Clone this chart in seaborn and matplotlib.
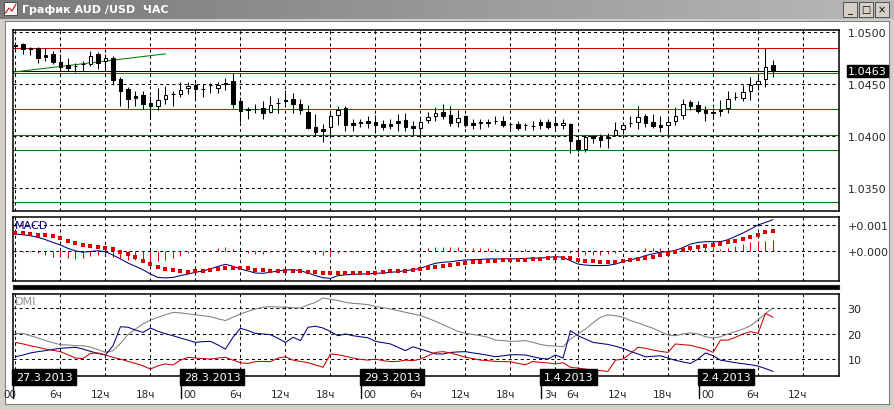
import numpy as np
import pandas as pd
import matplotlib.pyplot as plt
import matplotlib.transforms as mtransforms
import seaborn as sns

# === Data (hourly bars, weekend skipped) ===
hours = list(range(102))   # 0 = 27.3.2013 00:00 ... 101 = 2.4.2013 08:00

open_ = [1.04880, 1.04888, 1.04848, 1.04849, 1.04780, 1.04789, 1.04717, 1.04681, 1.04675, 1.04697,
         1.04691, 1.04789, 1.04724, 1.04750, 1.04553, 1.04451, 1.04388, 1.04395, 1.04320, 1.04296,
         1.04362, 1.04405, 1.04405, 1.04460, 1.04497, 1.04456, 1.04496, 1.04460, 1.04500, 1.04530,
         1.04340, 1.04265, 1.04263, 1.04270, 1.04230, 1.04320, 1.04345, 1.04355, 1.04312, 1.04237,
         1.04092, 1.04072, 1.04086, 1.04204, 1.04270, 1.04132, 1.04135, 1.04151, 1.04138, 1.04122,
         1.04122, 1.04145, 1.04158, 1.04099, 1.04082, 1.04155, 1.04194, 1.04230, 1.04207, 1.04141,
         1.04191, 1.04132, 1.04125, 1.04132, 1.04145, 1.04148, 1.04115, 1.04122, 1.04105, 1.04095,
         1.04138, 1.04141, 1.04125, 1.04112, 1.04115, 1.03961, 1.03878, 1.04000, 1.03990, 1.03984,
         1.04013, 1.04072, 1.04125, 1.04141, 1.04197, 1.04138, 1.04112, 1.04105, 1.04148, 1.04207,
         1.04329, 1.04303, 1.04257, 1.04220, 1.04247, 1.04270, 1.04375, 1.04372, 1.04438, 1.04503,
         1.04549, 1.04681]
high = [1.04906, 1.04898, 1.04860, 1.04862, 1.04849, 1.04822, 1.04789, 1.04757, 1.04707, 1.04724,
        1.04822, 1.04806, 1.04789, 1.04773, 1.04566, 1.04477, 1.04434, 1.04434, 1.04392, 1.04460,
        1.04487, 1.04434, 1.04520, 1.04526, 1.04510, 1.04500, 1.04516, 1.04526, 1.04559, 1.04610,
        1.04378, 1.04280, 1.04312, 1.04336, 1.04385, 1.04368, 1.04444, 1.04421, 1.04355, 1.04303,
        1.04214, 1.04115, 1.04247, 1.04296, 1.04290, 1.04164, 1.04171, 1.04197, 1.04204, 1.04158,
        1.04164, 1.04214, 1.04224, 1.04148, 1.04164, 1.04230, 1.04286, 1.04306, 1.04296, 1.04257,
        1.04204, 1.04164, 1.04171, 1.04164, 1.04197, 1.04191, 1.04138, 1.04148, 1.04132, 1.04148,
        1.04164, 1.04164, 1.04164, 1.04164, 1.04125, 1.03984, 1.04016, 1.04016, 1.04026, 1.04033,
        1.04138, 1.04138, 1.04197, 1.04289, 1.04214, 1.04214, 1.04197, 1.04197, 1.04286, 1.04362,
        1.04345, 1.04336, 1.04289, 1.04270, 1.04345, 1.04434, 1.04428, 1.04493, 1.04569, 1.04592,
        1.04845, 1.04730]
low = [1.04835, 1.04789, 1.04780, 1.04707, 1.04724, 1.04697, 1.04651, 1.04632, 1.04615, 1.04632,
       1.04674, 1.04651, 1.04658, 1.04500, 1.04296, 1.04270, 1.04289, 1.04263, 1.04168, 1.04257,
       1.04312, 1.04296, 1.04378, 1.04411, 1.04362, 1.04378, 1.04421, 1.04421, 1.04444, 1.04270,
       1.04140, 1.04165, 1.04224, 1.04171, 1.04224, 1.04224, 1.04312, 1.04220, 1.04214, 1.04072,
       1.04000, 1.03941, 1.04000, 1.04105, 1.04049, 1.04049, 1.04092, 1.04082, 1.04033, 1.04059,
       1.04066, 1.04049, 1.04049, 1.04016, 1.04000, 1.04125, 1.04148, 1.04164, 1.04099, 1.04092,
       1.04092, 1.04072, 1.04072, 1.04092, 1.04115, 1.04092, 1.04066, 1.04059, 1.04056, 1.04059,
       1.04072, 1.04066, 1.04066, 1.04066, 1.03836, 1.03852, 1.03852, 1.03934, 1.03901, 1.03885,
       1.04000, 1.04026, 1.04092, 1.04072, 1.04092, 1.04082, 1.04039, 1.04000, 1.04105, 1.04171,
       1.04257, 1.04224, 1.04148, 1.04170, 1.04197, 1.04224, 1.04345, 1.04336, 1.04345, 1.04444,
       1.04477, 1.04566]
close = [1.04870, 1.04839, 1.04843, 1.04757, 1.04763, 1.04714, 1.04668, 1.04658, 1.04678, 1.04699,
         1.04773, 1.04707, 1.04750, 1.04543, 1.04434, 1.04355, 1.04372, 1.04309, 1.04296, 1.04345,
         1.04395, 1.04408, 1.04444, 1.04484, 1.04451, 1.04453, 1.04493, 1.04493, 1.04516, 1.04310,
         1.04240, 1.04255, 1.04266, 1.04224, 1.04303, 1.04322, 1.04342, 1.04309, 1.04250, 1.04082,
         1.04043, 1.04049, 1.04191, 1.04257, 1.04105, 1.04109, 1.04132, 1.04125, 1.04105, 1.04092,
         1.04099, 1.04132, 1.04092, 1.04076, 1.04138, 1.04181, 1.04220, 1.04197, 1.04132, 1.04178,
         1.04105, 1.04112, 1.04141, 1.04134, 1.04147, 1.04112, 1.04117, 1.04082, 1.04107, 1.04099,
         1.04105, 1.04092, 1.04105, 1.04132, 1.03951, 1.03878, 1.03993, 1.03980, 1.03967, 1.03990,
         1.04056, 1.04105, 1.04128, 1.04188, 1.04132, 1.04099, 1.04092, 1.04138, 1.04197, 1.04312,
         1.04296, 1.04247, 1.04220, 1.04230, 1.04250, 1.04362, 1.04378, 1.04428, 1.04493, 1.04533,
         1.04668, 1.04630]

# horizontal levels and trend line drawn on the price window
green_levels = [1.0461, 1.0426, 1.0401, 1.0387, 1.0337]
red_level = 1.04845
bid = 1.0463
trend_t = [-0.33, 20.0]
trend_p = [1.04617, 1.04793]

# MACD main line and signal line, in units of 0.0001
macd_main = [6.5, 6.2, 5.8, 5.2, 4.3, 3.2, 2.2, 0.9, -0.1, -0.6,
             -0.3, 0.0, -0.4, -1.7, -3.2, -4.8, -6.1, -7.4, -9.1, -10.4,
             -10.6, -10.4, -9.7, -9.1, -8.4, -7.9, -7.1, -6.1, -5.3, -6.1,
             -7.1, -7.9, -8.7, -8.8, -8.4, -7.9, -7.5, -7.4, -7.8, -8.7,
             -9.7, -10.5, -10.8, -9.7, -9.4, -9.2, -9.1, -9.0, -8.8, -8.7,
             -8.4, -8.2, -7.8, -7.4, -6.9, -5.8, -4.9, -4.5, -4.3, -3.9,
             -3.6, -3.5, -3.4, -3.2, -3.2, -3.2, -3.2, -3.1, -3.0, -2.9,
             -2.9, -2.6, -2.3, -2.6, -3.9, -5.2, -5.6, -5.8, -5.8, -5.7,
             -5.2, -4.3, -3.5, -2.9, -1.9, -1.2, -0.6, -0.4, 0.1, 1.2,
             2.6, 3.2, 3.5, 3.5, 3.5, 4.3, 5.6, 6.9, 8.4, 10.0,
             11.0, 12.1]
macd_signal = [6.9, 6.8, 6.5, 6.1, 6.0, 5.6, 4.8, 3.6, 3.0, 2.3,
               1.9, 1.6, 1.0, 0.6, -0.4, -1.3, -2.3, -3.9, -5.2, -6.5,
               -7.1, -7.5, -7.8, -8.2, -8.1, -7.8, -7.5, -7.1, -6.9, -6.8,
               -6.8, -6.9, -7.5, -7.7, -7.8, -7.8, -7.8, -7.8, -7.8, -8.2,
               -8.4, -8.7, -8.8, -8.8, -8.8, -8.8, -8.8, -8.8, -8.6, -8.3,
               -8.1, -7.9, -7.8, -7.5, -7.1, -6.9, -6.5, -6.1, -5.6, -5.2,
               -4.8, -4.5, -4.3, -4.2, -3.9, -3.8, -3.6, -3.5, -3.5, -3.2,
               -3.1, -3.0, -2.9, -2.7, -3.0, -3.5, -3.9, -4.0, -4.3, -4.4,
               -4.3, -4.0, -3.6, -3.2, -2.9, -2.3, -1.8, -1.2, -0.4, 0.4,
               0.9, 1.4, 1.8, 2.2, 2.7, 3.2, 3.8, 4.4, 5.2, 6.1,
               7.1, 7.8]

# DMI: ADX (gray), navy and red directional lines
adx = [20.1, 20.1, 19.2, 18.3, 17.3, 16.5, 15.7, 15.6, 15.3, 15.3,
       14.8, 13.8, 12.7, 13.4, 16.2, 19.6, 21.8, 23.8, 25.3, 26.4,
       27.4, 28.3, 28.1, 27.7, 27.4, 27.0, 26.6, 25.8, 25.1, 26.4,
       27.7, 28.7, 29.6, 30.3, 30.5, 30.4, 30.3, 30.1, 30.0, 31.2,
       32.2, 33.9, 33.4, 32.9, 32.2, 31.8, 31.6, 31.3, 30.6, 30.1,
       29.6, 29.0, 28.3, 27.7, 27.0, 26.0, 24.8, 23.5, 22.2, 20.9,
       20.1, 19.7, 19.2, 18.6, 17.5, 17.3, 17.0, 17.1, 17.3, 16.6,
       15.8, 15.3, 15.2, 14.9, 17.9, 19.9, 21.8, 24.2, 26.4, 27.3,
       27.0, 26.4, 25.1, 24.2, 23.1, 22.1, 20.8, 19.5, 19.2, 19.9,
       20.3, 19.9, 18.8, 18.3, 18.8, 19.9, 20.8, 21.8, 23.1, 25.3,
       27.9, 30.0]
di_navy = [11.0, 11.7, 12.5, 13.0, 13.4, 13.9, 14.3, 14.5, 14.7, 14.0,
           13.1, 12.3, 11.7, 15.3, 22.7, 22.5, 21.4, 20.5, 22.2, 20.9,
           20.0, 19.2, 18.3, 17.5, 16.6, 16.9, 17.0, 15.6, 14.0, 18.6,
           22.1, 21.2, 20.1, 19.9, 19.6, 18.2, 16.6, 18.6, 17.3, 22.5,
           22.9, 22.2, 20.8, 19.2, 19.9, 19.2, 18.8, 18.4, 17.0, 16.5,
           16.0, 14.7, 13.4, 14.9, 14.0, 13.1, 12.1, 12.1, 12.7, 12.9,
           13.0, 12.5, 12.1, 11.6, 11.0, 11.4, 11.8, 11.8, 11.7, 11.0,
           10.4, 10.1, 11.7, 10.5, 21.2, 19.2, 17.9, 16.6, 16.2, 15.8,
           15.1, 14.3, 13.1, 12.1, 11.0, 11.2, 11.4, 10.5, 9.6, 9.0,
           8.4, 10.1, 12.5, 11.4, 9.7, 9.2, 8.7, 8.3, 7.9, 7.4,
           6.4, 5.3]
di_red = [16.6, 16.0, 15.3, 14.7, 14.0, 13.5, 13.0, 11.8, 10.5, 10.3,
          12.3, 12.5, 11.7, 10.8, 10.1, 9.2, 8.4, 7.5, 6.2, 7.5,
          8.2, 7.8, 9.7, 10.8, 10.5, 10.3, 10.1, 10.5, 10.8, 9.7,
          8.7, 8.4, 9.1, 9.2, 9.1, 10.5, 11.0, 9.7, 9.2, 8.7,
          7.8, 6.9, 12.1, 11.8, 11.2, 10.5, 10.0, 9.7, 10.1, 9.5,
          9.1, 9.2, 9.7, 9.5, 10.1, 11.4, 12.7, 13.0, 12.5, 11.7,
          10.8, 10.3, 9.7, 9.5, 9.2, 9.1, 9.1, 8.4, 7.9, 9.2,
          8.8, 8.6, 8.2, 8.7, 6.9, 6.6, 6.2, 5.8, 5.6, 5.3,
          9.7, 10.1, 12.3, 14.7, 14.3, 13.6, 13.1, 12.7, 16.0, 15.7,
          15.5, 14.7, 14.0, 12.7, 17.5, 17.5, 18.6, 19.9, 20.8, 20.1,
          27.9, 26.4]

# time axis labels
grid_hours = [0, 6, 12, 18, 24, 30, 36, 42, 48, 54, 60, 66, 72, 75, 81, 87, 93, 99, 105]
grid_labels = ["00", "6ч", "12ч", "18ч", "00", "6ч", "12ч", "18ч", "00", "6ч", "12ч", "18ч",
               "3ч", "6ч", "12ч", "18ч", "00", "6ч", "12ч"]
day_hours = [0, 24, 48, 72, 93]
day_labels = ["27.3.2013", "28.3.2013", "29.3.2013", "1.4.2013", "2.4.2013"]

# === Style ===
sns.set_style("white")
plt.rcParams['font.family'] = ['DejaVu Sans']
plt.rcParams['lines.scale_dashes'] = False
DASH = (0, (2.2, 2.2))
GREEN = '#008000'
RED = '#dd0000'
NAVY = '#000080'
THIN = 0.75

W, H = 895, 410
fig = plt.figure(figsize=(W / 100, H / 100), dpi=100)
fig.patch.set_facecolor('#d4d0c8')


def px_box(x0, y0, x1, y1):
    return [x0 / W, 1 - y1 / H, (x1 - x0) / W, (y1 - y0) / H]


# window frame / white client area
bg = fig.add_axes(px_box(5, 22, 889, 405))
bg.set_facecolor('white')
bg.set_xticks([])
bg.set_yticks([])
for s in bg.spines.values():
    s.set_color('#808080')

# title bar
tb = fig.add_axes(px_box(0, 0, W, 20))
grad = np.linspace(0, 1, 256).reshape(1, -1)
tb.imshow(grad, aspect='auto', cmap=sns.blend_palette(['#7a7a7a', '#b8b8b8'], as_cmap=True),
          extent=[0, 1, 0, 1])
tb.set_xlim(0, 1)
tb.set_ylim(0, 1)
tb.axis('off')
tb.add_patch(plt.Rectangle((4 / W, 0.18), 13 / W, 0.65, fc='white', ec='#404040', lw=0.6))
tb.plot([5.5 / W, 9 / W, 12 / W, 16 / W], [0.3, 0.55, 0.4, 0.75], color='#cc2222', lw=0.9)
tb.text(22 / W, 0.5, "График AUD /USD  ЧАС", color='white', fontsize=8, fontweight='bold',
        va='center', ha='left')
for bx, glyph in zip([843, 859, 875], ["_", "□", "×"]):
    tb.add_patch(plt.Rectangle((bx / W, 0.12), 14 / W, 0.75, fc='#d4d0c8', ec='#404040', lw=0.6))
    tb.text((bx + 7) / W, 0.5, glyph, fontsize=7, ha='center', va='center', color='black')

XMIN, XMAX = -0.33, 109.8


def style_panel(ax, ylim, yticks):
    ax.set_xlim(XMIN, XMAX)
    ax.set_ylim(*ylim)
    ax.set_facecolor('white')
    ax.set_xticks(grid_hours)
    ax.set_xticklabels([])
    ax.set_yticks(yticks)
    ax.yaxis.tick_right()
    ax.tick_params(axis='both', length=0, labelsize=8, pad=6)
    ax.grid(True, color='black', lw=THIN, linestyle=DASH)
    ax.set_axisbelow(True)
    ax.set_xlabel('')
    ax.set_ylabel('')
    for s in ax.spines.values():
        s.set_color('black')
        s.set_linewidth(1.1)


# === Price window ===
ax_p = fig.add_axes(px_box(13, 31, 839, 212))
df = pd.DataFrame({'t': hours, 'open': open_, 'high': high, 'low': low, 'close': close})
up = df['close'] >= df['open']
ax_p.vlines(df['t'], df['low'], df['high'], color='black', lw=THIN, zorder=3)
body = (df['close'] - df['open']).abs().clip(lower=0.00002)
ax_p.bar(df['t'], body, bottom=df[['open', 'close']].min(axis=1), width=0.45,
         color=np.where(up, 'white', 'black'), edgecolor='black', linewidth=THIN, zorder=4)
for lv in green_levels:
    ax_p.axhline(lv, color=GREEN, lw=THIN, zorder=2)
ax_p.axhline(red_level, color=RED, lw=THIN, zorder=2)
ax_p.axhline(bid, color='black', lw=THIN, zorder=2)
sns.lineplot(x=trend_t, y=trend_p, ax=ax_p, color=GREEN, lw=THIN)
style_panel(ax_p, (1.03282, 1.05022), [1.035, 1.040, 1.045, 1.050])
ax_p.set_yticklabels([f"{v:.4f}" for v in [1.035, 1.040, 1.045, 1.050]])
tr = mtransforms.blended_transform_factory(ax_p.transAxes, ax_p.transData)
ax_p.text(1 + 9 / 826, bid, f"{bid:.4f}", transform=tr, fontsize=8, color='white',
          ha='left', va='center',
          bbox=dict(boxstyle='square,pad=0.1', fc='black', ec='black'))

# === MACD window ===
ax_m = fig.add_axes(px_box(13, 218.3, 839, 282))
m_main = np.array(macd_main) * 1e-4
m_sig = np.array(macd_signal) * 1e-4
ax_m.vlines(hours, 0, m_main - m_sig, color=RED, lw=THIN, zorder=2)
sns.lineplot(x=hours, y=m_main, ax=ax_m, color=NAVY, lw=THIN, zorder=3)
sns.scatterplot(x=hours, y=m_sig, ax=ax_m, marker='s', s=6, color=RED, linewidth=0, zorder=4)
style_panel(ax_m, (-0.00118, 0.0013), [0.0, 0.001])
ax_m.set_yticklabels(["+0.000", "+0.001"])
ax_m.text(0.002, 0.96, "MACD", transform=ax_m.transAxes, fontsize=8, color=NAVY,
          ha='left', va='top')

# thin collapsed indicator strip
ax_s = fig.add_axes(px_box(13, 286, 839, 290))
ax_s.set_facecolor('black')
ax_s.set_xticks([])
ax_s.set_yticks([])

# === DMI window ===
ax_d = fig.add_axes(px_box(13, 295, 839, 377.3))
sns.lineplot(x=hours, y=adx, ax=ax_d, color='#808080', lw=THIN)
sns.lineplot(x=hours, y=di_navy, ax=ax_d, color=NAVY, lw=THIN)
sns.lineplot(x=hours, y=di_red, ax=ax_d, color='#cc0000', lw=THIN)
style_panel(ax_d, (3.4, 35.45), [10, 20, 30])
ax_d.text(0.002, 0.97, "DMI", transform=ax_d.transAxes, fontsize=8, color='#909090',
          ha='left', va='top')

# time labels under the DMI window
trd = mtransforms.blended_transform_factory(ax_d.transData, ax_d.transAxes)
for h, lab in zip(grid_hours, grid_labels):
    xh = max(h - 0.7, -1.2)
    ax_d.text(xh, -0.215, lab, transform=trd, fontsize=7.5, ha='center', va='center',
              clip_on=False)
for h, lab in zip(day_hours, day_labels):
    x_line = max(h - 1.93, XMIN)
    ax_d.plot([x_line, x_line], [-0.08, -0.26], transform=trd, color='black', lw=1,
              clip_on=False)
    ax_d.text(max(h - 1.56, 0.04), -0.01, lab, transform=trd, fontsize=8, color='white',
              ha='left', va='center', clip_on=False, zorder=6,
              bbox=dict(boxstyle='square,pad=0.3', fc='black', ec='black'))

fig.savefig("out.png", dpi=100, facecolor=fig.get_facecolor())
